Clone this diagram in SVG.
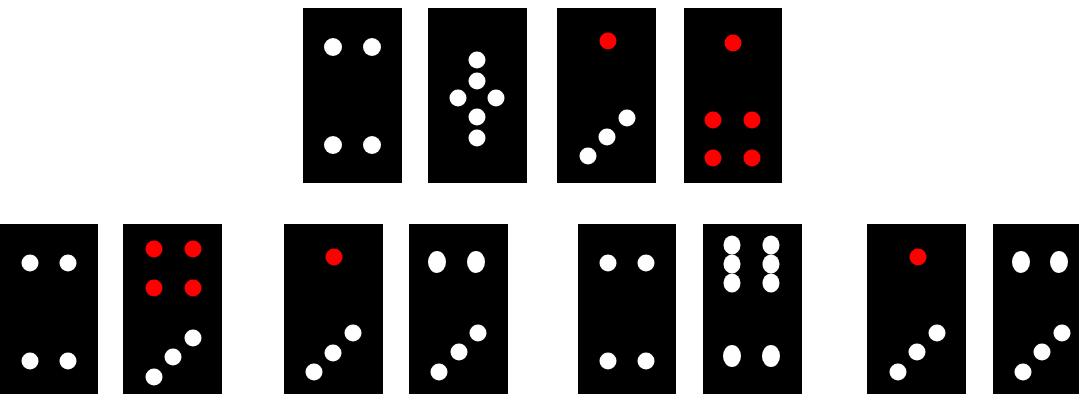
<svg xmlns="http://www.w3.org/2000/svg" width="1079" height="394" viewBox="0 0 1079 394">
<style>
.tile{fill:#000}
.w{fill:#fff}
.r{fill:#f00}
</style>
<rect width="1079" height="394" fill="#fff"/>
<g id="tile-top-1">
<rect class="tile" x="303" y="8" width="99" height="175"/>
<circle class="w" cx="333" cy="47" r="9"/><circle class="w" cx="372" cy="47" r="9"/>
<circle class="w" cx="333" cy="145" r="9"/><circle class="w" cx="372" cy="145" r="9"/>
</g>
<g id="tile-top-2">
<rect class="tile" x="428" y="8" width="99" height="175"/>
<circle class="w" cx="477" cy="60" r="8.5"/><circle class="w" cx="477" cy="81" r="8.5"/>
<circle class="w" cx="458" cy="98" r="8.5"/><circle class="w" cx="496" cy="98" r="8.5"/>
<circle class="w" cx="477" cy="117" r="8.5"/><circle class="w" cx="477" cy="138" r="8.5"/>
</g>
<g id="tile-top-3">
<rect class="tile" x="557" y="8" width="99" height="175"/>
<circle class="r" cx="608" cy="41" r="8.5"/>
<circle class="w" cx="627" cy="118" r="8.5"/><circle class="w" cx="607" cy="137" r="8.5"/><circle class="w" cx="588" cy="156" r="8.5"/>
</g>
<g id="tile-top-4">
<rect class="tile" x="684" y="8" width="98" height="175"/>
<circle class="r" cx="733" cy="43" r="8.5"/>
<circle class="r" cx="713" cy="120" r="8.5"/><circle class="r" cx="752" cy="120" r="8.5"/>
<circle class="r" cx="713" cy="158" r="8.5"/><circle class="r" cx="752" cy="158" r="8.5"/>
</g>
<g id="tile-bottom-1">
<rect class="tile" x="-1" y="224" width="99" height="175"/>
<circle class="w" cx="30" cy="263" r="8.5"/><circle class="w" cx="68" cy="263" r="8.5"/>
<circle class="w" cx="30" cy="361" r="8.5"/><circle class="w" cx="68" cy="361" r="8.5"/>
</g>
<g id="tile-bottom-2">
<rect class="tile" x="123" y="224" width="99" height="175"/>
<circle class="r" cx="154" cy="249" r="8.5"/><circle class="r" cx="193" cy="249" r="8.5"/>
<circle class="r" cx="154" cy="288" r="8.5"/><circle class="r" cx="193" cy="288" r="8.5"/>
<circle class="w" cx="193" cy="338" r="8.5"/><circle class="w" cx="173" cy="357" r="8.5"/><circle class="w" cx="154" cy="377" r="8.5"/>
</g>
<g id="tile-bottom-3">
<rect class="tile" x="284" y="224" width="99" height="175"/>
<circle class="r" cx="334" cy="257" r="8.5"/>
<circle class="w" cx="353" cy="333" r="8.5"/><circle class="w" cx="333" cy="353" r="8.5"/><circle class="w" cx="314" cy="372" r="8.5"/>
</g>
<g id="tile-bottom-4">
<rect class="tile" x="409" y="224" width="99" height="175"/>
<ellipse class="w" cx="437" cy="262" rx="9" ry="11"/><ellipse class="w" cx="476" cy="262" rx="9" ry="11"/>
<circle class="w" cx="478" cy="333" r="8.5"/><circle class="w" cx="459" cy="352" r="8.5"/><circle class="w" cx="439" cy="372" r="8.5"/>
</g>
<g id="tile-bottom-5">
<rect class="tile" x="578" y="224" width="98" height="175"/>
<circle class="w" cx="608" cy="263" r="8.5"/><circle class="w" cx="646" cy="263" r="8.5"/>
<circle class="w" cx="608" cy="361" r="8.5"/><circle class="w" cx="646" cy="361" r="8.5"/>
</g>
<g id="tile-bottom-6">
<rect class="tile" x="703" y="224" width="99" height="175"/>
<ellipse class="w" cx="732" cy="245" rx="8.5" ry="9.5"/><ellipse class="w" cx="771" cy="245" rx="8.5" ry="9.5"/>
<ellipse class="w" cx="732" cy="264" rx="8.5" ry="9.5"/><ellipse class="w" cx="771" cy="264" rx="8.5" ry="9.5"/>
<ellipse class="w" cx="732" cy="283" rx="8.5" ry="9.5"/><ellipse class="w" cx="771" cy="283" rx="8.5" ry="9.5"/>
<ellipse class="w" cx="732" cy="356" rx="9" ry="11"/><ellipse class="w" cx="771" cy="356" rx="9" ry="11"/>
</g>
<g id="tile-bottom-7">
<rect class="tile" x="867" y="224" width="99" height="175"/>
<circle class="r" cx="918" cy="257" r="8.5"/>
<circle class="w" cx="937" cy="333" r="8.5"/><circle class="w" cx="917" cy="352" r="8.5"/><circle class="w" cx="898" cy="372" r="8.5"/>
</g>
<g id="tile-bottom-8">
<rect class="tile" x="993" y="224" width="99" height="175"/>
<ellipse class="w" cx="1021" cy="262" rx="9" ry="11"/><ellipse class="w" cx="1059" cy="262" rx="9" ry="11"/>
<circle class="w" cx="1062" cy="333" r="8.5"/><circle class="w" cx="1042" cy="352" r="8.5"/><circle class="w" cx="1023" cy="372" r="8.5"/>
</g>
<g id="connectors"/>
</svg>
